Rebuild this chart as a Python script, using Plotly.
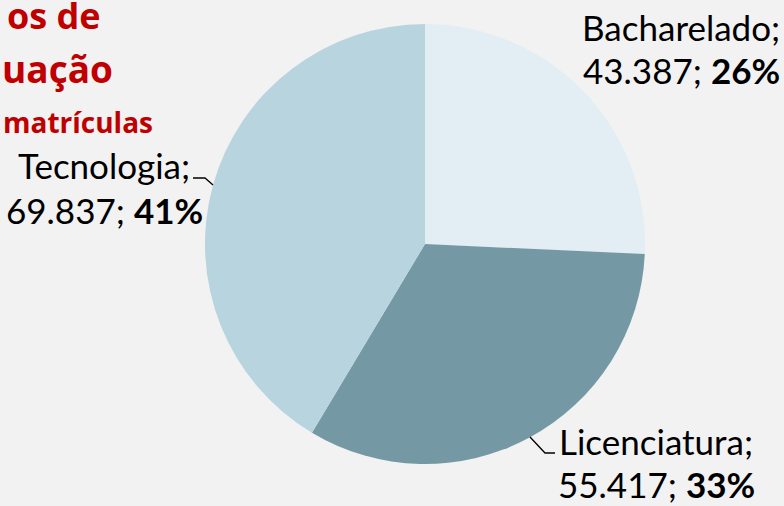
import plotly.graph_objects as go

categories = ["Bacharelado", "Licenciatura", "Tecnologia"]
values = [43387, 55417, 69837]
colors = ["#E2EEF3", "#7599A4", "#B7D4DF"]
title_lines = ["os de", "uação", "matrículas"]

W, H = 784, 506
total = sum(values)

def fmt(v):
    return f"{v:,}".replace(",", ".")

def px(x):
    return x / W

def py(y):
    return 1 - y / H

fig = go.Figure(go.Pie(
    labels=categories, values=values, sort=False, direction="clockwise", rotation=0,
    marker=dict(colors=colors, line=dict(width=0)), textinfo="none", hoverinfo="label+value+percent",
    domain=dict(x=[px(205), px(645)], y=[py(464), py(24)]),
    showlegend=False,
))

LS = 35
font = dict(family="Lato, sans-serif", size=LS, color="#000000")
# (center x, baseline line1, baseline line2)
label_pos = {"Bacharelado": (681, 40, 83), "Licenciatura": (656, 454, 497), "Tecnologia": (104, 178, 223)}
anns = []
for c, v in zip(categories, values):
    x, b1, b2 = label_pos[c]
    pct = round(100 * v / total)
    for txt, b in ((f"{c};", b1), (f"{fmt(v)}; <b>{pct}%</b>", b2)):
        anns.append(dict(x=px(x), y=py(b - 13), xref="paper", yref="paper", xanchor="center", yanchor="middle",
                         text=txt, showarrow=False, font=font, align="center"))

tfont = dict(family="Open Sans, sans-serif", color="#C00000")
# (right x, baseline, size)
title_specs = [(103, 30, 36), (115, 83, 37), (155, 133, 28)]
for t, (x, b, s) in zip(title_lines, title_specs):
    anns.append(dict(x=px(x), y=py(b - 0.39 * s), xref="paper", yref="paper", xanchor="right", yanchor="middle",
                     text=f"<b>{t}</b>", showarrow=False, font=dict(size=s, **tfont)))

shapes = [
    dict(type="path", path="M 193 178 L 205 178 L 213 185", xref="x", yref="y", line=dict(color="#000", width=1.3)),
    dict(type="path", path="M 530 437 L 545 453 L 555 453", xref="x", yref="y", line=dict(color="#000", width=1.3)),
]

fig.update_layout(
    width=W, height=H, margin=dict(l=0, r=0, t=0, b=0),
    paper_bgcolor="#F2F2F2", plot_bgcolor="rgba(0,0,0,0)",
    annotations=anns, shapes=shapes,
    xaxis=dict(range=[0, W], visible=False, fixedrange=True),
    yaxis=dict(range=[H, 0], visible=False, fixedrange=True),
)
fig.write_html("out.html", config={"displayModeBar": False},
               post_script="document.body.style.margin='0';document.body.style.overflow='hidden';")
